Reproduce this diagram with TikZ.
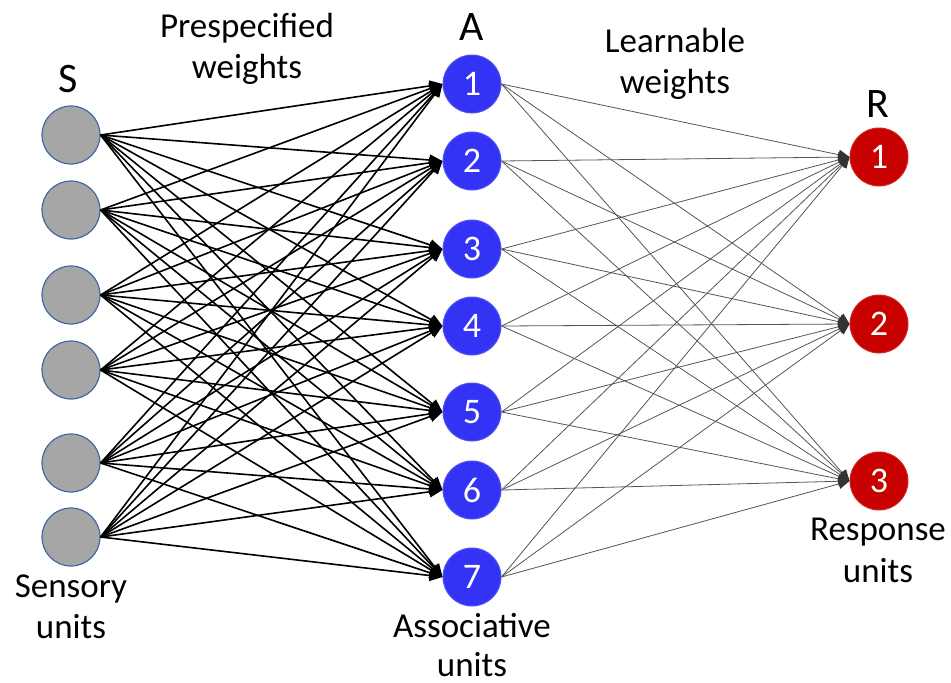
\documentclass[tikz,border=0pt]{standalone}
\usepackage{fontspec}
\setmainfont{Carlito}
\usetikzlibrary{arrows.meta}
\definecolor{sfill}{RGB}{166,166,166}
\definecolor{sdraw}{RGB}{68,104,160}
\definecolor{afill}{RGB}{51,51,245}
\definecolor{rfill}{RGB}{200,0,0}
\definecolor{arline}{RGB}{85,85,85}
\begin{document}
\begin{tikzpicture}[x=1pt,y=-1pt,
  sunit/.style={circle,minimum size=58pt,inner sep=0pt,fill=sfill,draw=sdraw,line width=1.2pt},
  aunit/.style={circle,minimum size=58pt,inner sep=0pt,fill=afill,draw=afill!85!white,line width=1pt,text=white,font=\fontsize{36}{38}\selectfont},
  runit/.style={circle,minimum size=58pt,inner sep=0pt,fill=rfill,draw=rfill!85!white,line width=1pt,text=white,font=\fontsize{36}{38}\selectfont},
  lbl/.style={anchor=base,inner sep=0pt,font=\fontsize{35}{41}\selectfont},
  big/.style={anchor=base,inner sep=0pt,font=\fontsize{42}{46}\selectfont},
  saedge/.style={line width=1.6pt,black,-{Triangle[length=13pt,width=11pt]}},
  aredge/.style={line width=0.8pt,arline,-{Triangle[length=11pt,width=10pt,fill=black!80,color=black!80]}}]
\useasboundingbox (0,0) rectangle (951,683);
% sensory units
\node[sunit] (s1) at (71,135) {};
\node[sunit] (s2) at (71,210) {};
\node[sunit] (s3) at (71,295) {};
\node[sunit] (s4) at (71,370) {};
\node[sunit] (s5) at (71,463) {};
\node[sunit] (s6) at (71,537) {};
% associative units
\node[aunit] (a1) at (472,84) {1};
\node[aunit] (a2) at (472,161) {2};
\node[aunit] (a3) at (472,249) {3};
\node[aunit] (a4) at (472,326) {4};
\node[aunit] (a5) at (472,412) {5};
\node[aunit] (a6) at (472,490) {6};
\node[aunit] (a7) at (472,577) {7};
% response units
\node[runit] (r1) at (879,157) {1};
\node[runit] (r2) at (879,324) {2};
\node[runit] (r3) at (879,481) {3};
% connections
\foreach \i in {1,...,6}{
  \foreach \j in {1,...,7}{
    \draw[saedge] (s\i.east) -- (a\j.west);
  }
}
\foreach \j in {1,...,7}{
  \foreach \k in {1,2,3}{
    \draw[aredge] (a\j.east) -- (r\k.west);
  }
}
% labels
\node[big] (lblS) at (68,92) {S};
\node[big] (lblA) at (472,40) {A};
\node[big] (lblR) at (878,117) {R};
\node[lbl] (pre1) at (247,37) {Prespecified};
\node[lbl] (pre2) at (247,78) {weights};
\node[lbl] (lea1) at (675,52) {Learnable};
\node[lbl] (lea2) at (675,93) {weights};
\node[lbl] (sen1) at (71,597) {Sensory};
\node[lbl] (sen2) at (71,638) {units};
\node[lbl] (ass1) at (472,637) {Associative};
\node[lbl] (ass2) at (472,676) {units};
\node[lbl] (res1) at (878,540) {Response};
\node[lbl] (res2) at (878,582) {units};
\end{tikzpicture}
\end{document}
